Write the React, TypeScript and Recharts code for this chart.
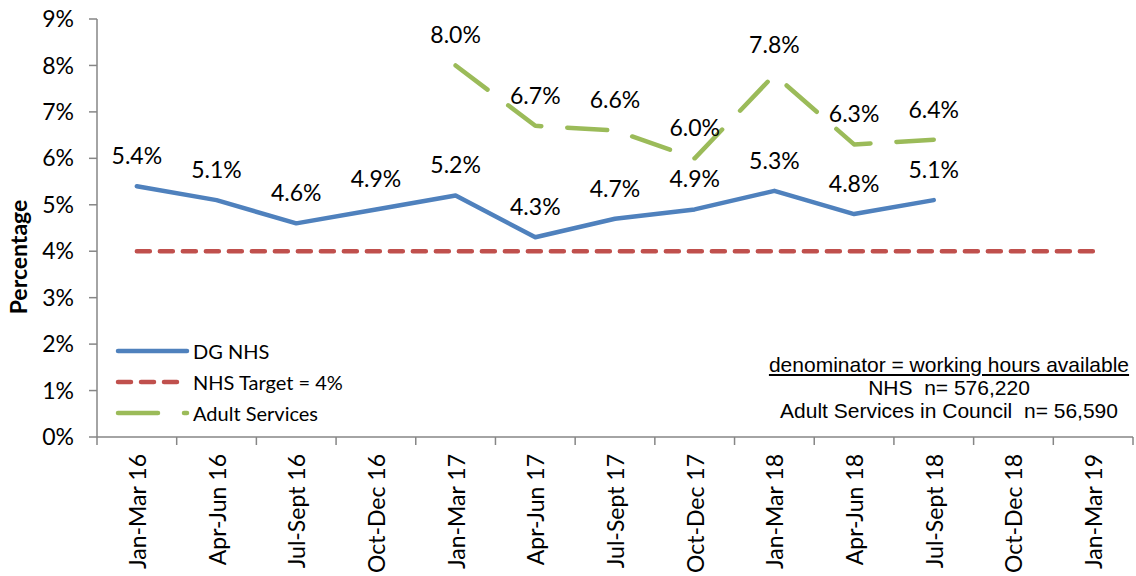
import React from 'react';
import { LineChart, Line, XAxis, YAxis, LabelList } from 'recharts';

const categories = [
  'Jan-Mar 16', 'Apr-Jun 16', 'Jul-Sept 16', 'Oct-Dec 16', 'Jan-Mar 17', 'Apr-Jun 17',
  'Jul-Sept 17', 'Oct-Dec 17', 'Jan-Mar 18', 'Apr-Jun 18', 'Jul-Sept 18', 'Oct-Dec 18', 'Jan-Mar 19',
];
const dgNhs: (number | null)[] = [5.4, 5.1, 4.6, 4.9, 5.2, 4.3, 4.7, 4.9, 5.3, 4.8, 5.1, null, null];
const nhsTarget: (number | null)[] = [4, 4, 4, 4, 4, 4, 4, 4, 4, 4, 4, 4, 4];
const adultServices: (number | null)[] = [null, null, null, null, 8.0, 6.7, 6.6, 6.0, 7.8, 6.3, 6.4, null, null];
const yTicks = [0, 1, 2, 3, 4, 5, 6, 7, 8, 9];
const noteLines = ['denominator = working hours available', 'NHS  n= 576,220', 'Adult Services in Council  n= 56,590'];

const series = [
  { key: 'dg', name: 'DG NHS', color: '#4F81BD', dash: undefined as string | undefined, labels: true },
  { key: 'target', name: 'NHS Target = 4%', color: '#C0504D', dash: '13 10', labels: false },
  { key: 'adult', name: 'Adult Services', color: '#9BBB59', dash: '40 26', labels: true },
];

const data = categories.map((c, i) => ({
  i,
  name: c,
  dg: dgNhs[i],
  target: nhsTarget[i],
  adult: adultServices[i],
}));

const xTicks: number[] = [];
categories.forEach((_, i) => {
  xTicks.push(i - 0.5);
  xTicks.push(i);
});
xTicks.push(categories.length - 0.5);

const FONT = 'Lato, "Open Sans", sans-serif';
const AXIS_COLOR = '#868686';

const XTick = (props: any) => {
  const { x, y, payload } = props;
  const v = payload.value as number;
  if (Number.isInteger(v)) {
    const ty = y + 17;
    return (
      <text
        x={x}
        y={ty}
        transform={`rotate(-90 ${x} ${ty})`}
        textAnchor="end"
        dominantBaseline="central"
        fontSize={23}
        fontFamily={FONT}
        fill="#000"
      >
        {categories[v]}
      </text>
    );
  }
  return <line x1={x} x2={x} y1={y} y2={y + 8} stroke={AXIS_COLOR} strokeWidth={1.5} />;
};

const DataLabel = (props: any) => {
  const { x, y, value } = props;
  if (value == null || x == null || y == null) return null;
  return (
    <text
      x={x}
      y={y - 31}
      textAnchor="middle"
      dominantBaseline="central"
      fontSize={23}
      fontFamily={FONT}
      fill="#000"
    >
      {Number(value).toFixed(1)}%
    </text>
  );
};

const YLabel = (props: any) => {
  const vb = props.viewBox || { x: 0, y: 0, width: 0, height: 0 };
  const cx = vb.x + 18;
  const cy = vb.y + vb.height / 2 + 29;
  return (
    <text
      x={cx}
      y={cy}
      transform={`rotate(-90 ${cx} ${cy})`}
      textAnchor="middle"
      dominantBaseline="central"
      fontSize={23}
      fontWeight="bold"
      fontFamily={FONT}
      fill="#000"
    >
      Percentage
    </text>
  );
};

export default function App() {
  return (
    <div style={{ position: 'absolute', left: 0, top: 0, width: 1136, height: 576, background: '#fff' }}>
      <LineChart
        width={1136}
        height={576}
        data={data}
        margin={{ top: 19, right: 3, left: 0, bottom: 0 }}
        style={{ fontFamily: FONT }}
      >
        <XAxis
          dataKey="i"
          type="number"
          domain={[-0.5, categories.length - 0.5]}
          ticks={xTicks}
          interval={0}
          tick={<XTick />}
          tickLine={false}
          tickSize={0}
          tickMargin={0}
          height={139}
          axisLine={{ stroke: AXIS_COLOR, strokeWidth: 1.5 }}
        />
        <YAxis
          type="number"
          domain={[0, 9]}
          ticks={yTicks}
          interval={0}
          width={97}
          tickFormatter={(v: number) => `${v}%`}
          tick={{ fontSize: 23, fontFamily: FONT, fill: '#000' }}
          tickSize={8}
          tickMargin={15}
          tickLine={{ stroke: AXIS_COLOR, strokeWidth: 1.5 }}
          axisLine={{ stroke: AXIS_COLOR, strokeWidth: 1.5 }}
          label={<YLabel />}
        />
        {series.map((s) => (
          <Line
            key={s.key}
            dataKey={s.key}
            name={s.name}
            stroke={s.color}
            strokeWidth={4.5}
            strokeDasharray={s.dash}
            strokeLinecap="round"
            strokeLinejoin="round"
            dot={false}
            activeDot={false}
            connectNulls={false}
            isAnimationActive={false}
          >
            {s.labels && <LabelList dataKey={s.key} content={<DataLabel />} />}
          </Line>
        ))}
      </LineChart>
      <div
        style={{
          position: 'absolute',
          left: 114,
          top: 335,
          fontFamily: FONT,
          fontSize: 20,
          color: '#000',
        }}
      >
        {series.map((s) => (
          <div key={s.key} style={{ display: 'flex', alignItems: 'center', height: 31 }}>
            <svg width={79} height={10} style={{ display: 'block' }}>
              <line
                x1={4}
                x2={73}
                y1={5}
                y2={5}
                stroke={s.color}
                strokeWidth={4.5}
                strokeLinecap="round"
                strokeDasharray={s.dash}
              />
            </svg>
            <span style={{ whiteSpace: 'pre' }}>{s.name}</span>
          </div>
        ))}
      </div>
      <div
        style={{
          position: 'absolute',
          left: 749,
          top: 353,
          width: 400,
          textAlign: 'center',
          fontFamily: '"Liberation Sans", Arial, sans-serif',
          fontSize: 21,
          lineHeight: '23px',
          color: '#000',
        }}
      >
        {noteLines.map((t, idx) => (
          <div key={t} style={{ textDecoration: idx === 0 ? 'underline' : 'none', whiteSpace: 'pre' }}>
            {t}
          </div>
        ))}
      </div>
    </div>
  );
}
